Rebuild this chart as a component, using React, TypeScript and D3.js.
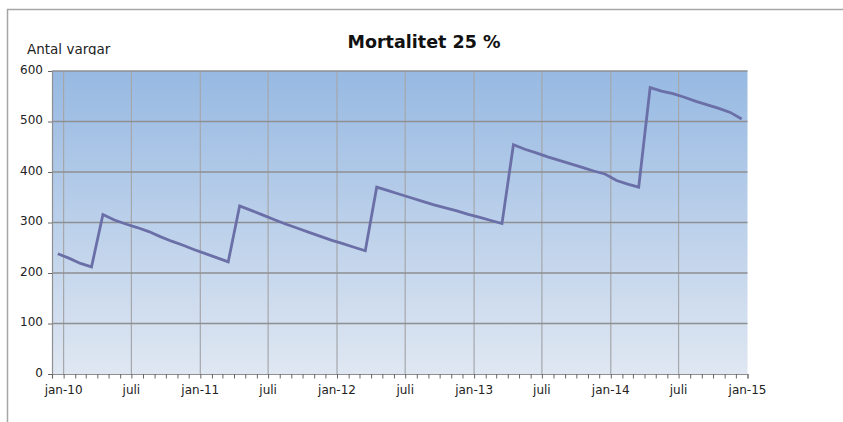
import React, { useEffect, useRef } from "react";
import * as d3 from "d3";

// Antal vargar per månad, dec-09 .. dec-14
const startMonth = new Date(2009, 11, 1);
const antal = [
  238,
  229, 219, 212, 316, 305, 297, 290, 282, 272, 263, 255, 246, // 2010
  238, 230, 222, 333, 324, 315, 306, 297, 289, 281, 273, 265, // 2011
  258, 251, 244, 370, 363, 356, 349, 342, 335, 329, 323, 316, // 2012
  310, 304, 298, 454, 445, 438, 430, 423, 416, 409, 402, 396, // 2013
  383, 376, 370, 567, 560, 555, 548, 540, 533, 526, 518, 505, // 2014
];
const yTicks = [0, 100, 200, 300, 400, 500, 600];
const xLabelDates = [
  new Date(2010, 0, 1), new Date(2010, 6, 1), new Date(2011, 0, 1), new Date(2011, 6, 1),
  new Date(2012, 0, 1), new Date(2012, 6, 1), new Date(2013, 0, 1), new Date(2013, 6, 1),
  new Date(2014, 0, 1), new Date(2014, 6, 1), new Date(2015, 0, 1),
];
const xLabels = ["jan-10", "juli", "jan-11", "juli", "jan-12", "juli", "jan-13", "juli", "jan-14", "juli", "jan-15"];
const title = "Mortalitet 25 %";
const yTitle = "Antal vargar";

export default function App() {
  const ref = useRef<SVGSVGElement>(null);

  useEffect(() => {
    const svg = d3.select(ref.current);
    svg.selectAll("*").remove();

    const left = 52, right = 747.5, top = 71, bottom = 374;
    const font = "DejaVu Sans, sans-serif";

    const x = d3.scaleTime()
      .domain([startMonth, new Date(2015, 0, 1)])
      .range([left, right]);
    const y = d3.scaleLinear().domain([0, 600]).range([bottom, top]);

    // middle of each month
    const points = antal.map((v, i) => {
      const a = d3.timeMonth.offset(startMonth, i);
      const b = d3.timeMonth.offset(startMonth, i + 1);
      return { date: new Date((a.getTime() + b.getTime()) / 2), value: v };
    });

    // frame
    svg.append("path")
      .attr("d", `M7.5,422 V9.5 H843`)
      .attr("fill", "none")
      .attr("stroke", "#a6a6a6")
      .attr("stroke-width", 1.5);

    // background gradient
    const defs = svg.append("defs");
    const grad = defs.append("linearGradient")
      .attr("id", "bg").attr("x1", 0).attr("y1", 0).attr("x2", 0).attr("y2", 1);
    grad.append("stop").attr("offset", "0%").attr("stop-color", "#97b9e2");
    grad.append("stop").attr("offset", "100%").attr("stop-color", "#dfe7f2");
    defs.append("clipPath").attr("id", "ytclip")
      .append("rect").attr("x", 0).attr("y", 0).attr("width", 200).attr("height", 55);

    svg.append("rect")
      .attr("x", left).attr("y", top)
      .attr("width", right - left).attr("height", bottom - top)
      .attr("fill", "url(#bg)");

    // vertical grid
    svg.append("g").selectAll("line")
      .data(xLabelDates.slice(0, -1))
      .enter().append("line")
      .attr("x1", d => x(d)).attr("x2", d => x(d))
      .attr("y1", top).attr("y2", bottom)
      .attr("stroke", "#a5a7ab").attr("stroke-width", 1.2);

    // horizontal grid
    svg.append("g").selectAll("line")
      .data(yTicks.slice(1))
      .enter().append("line")
      .attr("x1", left).attr("x2", right)
      .attr("y1", d => y(d)).attr("y2", d => y(d))
      .attr("stroke", "#8e8f92").attr("stroke-width", 1.5);

    // y axis
    const yAxis = svg.append("g")
      .attr("transform", `translate(${left},0)`)
      .call(d3.axisLeft(y).tickValues(yTicks).tickSize(4).tickPadding(5));
    yAxis.select(".domain").attr("stroke", "#8e8f92").attr("stroke-width", 1.2);
    yAxis.selectAll(".tick line").attr("stroke", "#666");
    yAxis.selectAll(".tick text")
      .attr("font-family", font).attr("font-size", 12).attr("fill", "#222")
      .attr("dy", "0.2em");

    // x axis: month ticks
    const months = d3.timeMonth.range(startMonth, d3.timeMonth.offset(new Date(2015, 0, 1), 1));
    const xAxis = svg.append("g")
      .attr("transform", `translate(0,${bottom})`)
      .call(d3.axisBottom(x).tickValues(months).tickSize(4.5).tickFormat(() => ""));
    xAxis.select(".domain").attr("stroke", "#8e8f92").attr("stroke-width", 1.2);
    xAxis.selectAll(".tick line").attr("stroke", "#666");

    svg.append("g").selectAll("text")
      .data(xLabelDates)
      .enter().append("text")
      .attr("x", d => x(d))
      .attr("y", 394)
      .attr("text-anchor", "middle")
      .attr("font-family", font).attr("font-size", 12).attr("fill", "#222")
      .text((d, i) => xLabels[i]);

    // line
    const line = d3.line<{ date: Date; value: number }>()
      .x(d => x(d.date))
      .y(d => y(d.value));
    svg.append("path")
      .datum(points)
      .attr("d", line)
      .attr("fill", "none")
      .attr("stroke", "#6b6fa7")
      .attr("stroke-width", 2.8)
      .attr("stroke-linejoin", "miter");

    // title
    svg.append("text")
      .attr("x", 424).attr("y", 48)
      .attr("text-anchor", "middle")
      .attr("font-family", font).attr("font-size", 17.5).attr("font-weight", "bold")
      .attr("fill", "#111")
      .text(title);

    svg.append("text")
      .attr("x", 27).attr("y", 53.5)
      .attr("clip-path", "url(#ytclip)")
      .attr("font-family", font).attr("font-size", 13.5).attr("fill", "#222")
      .text(yTitle);
  }, []);

  return (
    <svg ref={ref} width={843} height={422}
      style={{ position: "absolute", left: 0, top: 0, background: "#fff" }} />
  );
}
